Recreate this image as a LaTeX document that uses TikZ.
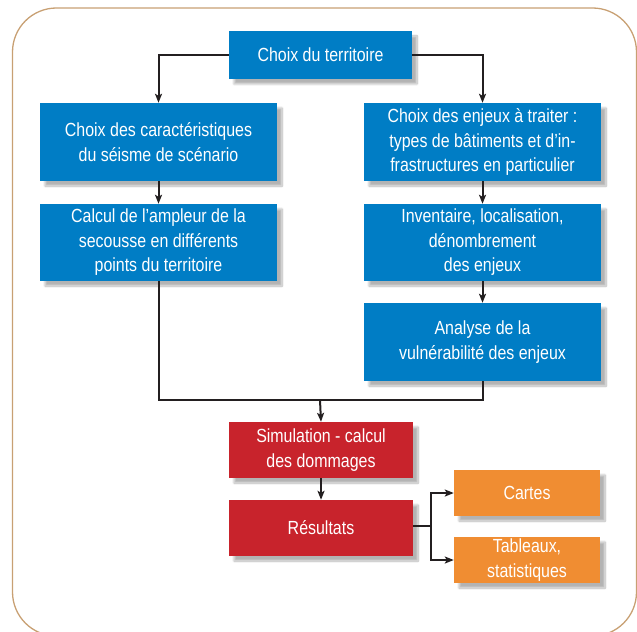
\documentclass[tikz,border=0pt]{standalone}
\usepackage{fontspec}
\setmainfont{Liberation Sans}[FakeStretch=0.84]
\usetikzlibrary{arrows.meta, shadows.blur}

\definecolor{bleu}{RGB}{0,125,197}
\definecolor{rouge}{RGB}{200,35,44}
\definecolor{orange}{RGB}{240,141,50}
\definecolor{cadre}{RGB}{200,160,115}
\definecolor{fleche}{RGB}{35,31,32}

\tikzset{
  boite/.style={fill=bleu, text=white, align=center, inner sep=0pt,
    font=\fontsize{19bp}{24.5bp}\selectfont,
    blur shadow={shadow xshift=5bp, shadow yshift=-5bp, shadow blur steps=10, shadow opacity=30}},
  rouge boite/.style={boite, fill=rouge},
  orange boite/.style={boite, fill=orange},
  lien/.style={draw=fleche, line width=2bp, -{Stealth[length=9bp, width=7bp, inset=2bp]}},
  trait/.style={draw=fleche, line width=2bp}
}

\begin{document}
\begin{tikzpicture}[x=1bp, y=-1bp]
  \useasboundingbox (0,0) rectangle (637,632);
  \begin{scope}
    \clip (0,0) rectangle (637,632);
    \draw[cadre, line width=1.3bp, rounded corners=44bp] (12.5,8) rectangle (636.5,636);
  \end{scope}

  % colonne gauche
  \node[boite, minimum width=183bp, minimum height=48bp] (territoire) at (320.5,55) {Choix du territoire};
  \node[boite, minimum width=237bp, minimum height=78bp] (carac) at (158.5,142)
    {Choix des caractéristiques\\du séisme de scénario};
  \node[boite, minimum width=237bp, minimum height=77bp] (calcul) at (158.5,242.5)
    {Calcul de l’ampleur de la\\secousse en différents\\points du territoire};

  % colonne droite
  \node[boite, minimum width=237bp, minimum height=78bp] (enjeux) at (482.5,142)
    {Choix des enjeux à traiter :\\types de bâtiments et d’in-\\frastructures en particulier};
  \node[boite, minimum width=237bp, minimum height=77bp] (inventaire) at (482.5,242.5)
    {Inventaire, localisation,\\dénombrement\\des enjeux};
  \node[boite, minimum width=237bp, minimum height=78bp] (analyse) at (482.5,342)
    {Analyse de la\\vulnérabilité des enjeux};

  % simulation et resultats
  \node[rouge boite, minimum width=184bp, minimum height=56bp] (simul) at (321,450)
    {Simulation - calcul\\des dommages};
  \node[rouge boite, minimum width=184bp, minimum height=56bp] (result) at (321,528) {Résultats};
  \node[orange boite, minimum width=146bp, minimum height=46bp] (cartes) at (527,493) {Cartes};
  \node[orange boite, minimum width=146bp, minimum height=46bp] (tableaux) at (527,560)
    {Tableaux,\\statistiques};

  \coordinate (jonction) at (320,400);
  \coordinate (fourche) at (431,526);

  \draw[lien] (territoire.west) -| (carac.north);
  \draw[lien] (territoire.east) -| (enjeux.north);
  \draw[lien] (carac) -- (calcul);
  \draw[lien] (enjeux) -- (inventaire);
  \draw[lien] (inventaire) -- (analyse);
  \draw[trait] (calcul.south) |- (jonction);
  \draw[trait] (analyse.south) |- (jonction);
  \draw[lien] (jonction) -- (simul.north);
  \draw[lien] (simul) -- (result);
  \draw[trait] (result.east |- fourche) -- (fourche);
  \draw[lien] (fourche) |- (cartes.west);
  \draw[lien] (fourche) |- (tableaux.west);
\end{tikzpicture}
\end{document}
